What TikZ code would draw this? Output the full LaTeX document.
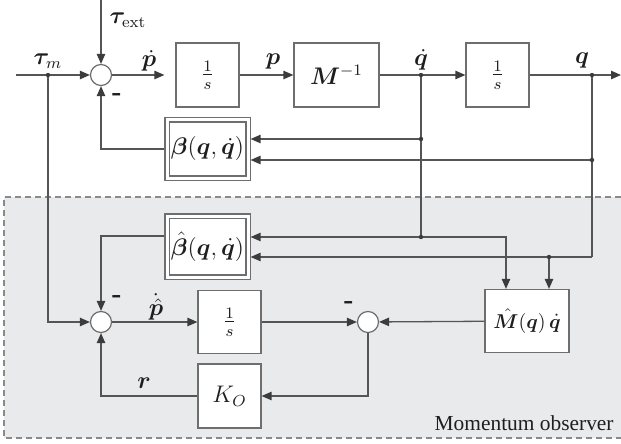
\documentclass[tikz,border=0pt]{standalone}
\usepackage{bm}
\usepackage{fontspec}
\newfontfamily\timesfont{Liberation Serif}
\usetikzlibrary{arrows.meta}
\definecolor{linegray}{HTML}{555555}
\definecolor{boxgray}{HTML}{6E6E6E}
\definecolor{tipgray}{HTML}{3C3C3C}
\definecolor{bggray}{HTML}{E9EAEB}
\definecolor{dashgray}{HTML}{8A8A8A}
\definecolor{txt}{HTML}{1E1E1E}
\begin{document}
\begin{tikzpicture}[x=0.5pt,y=-0.5pt,
  mfont/.style={font=\fontsize{11.5}{14}\selectfont, text=txt},
  blk/.style={draw=boxgray, fill=white, line width=0.6pt, inner sep=0pt, mfont},
  dblk/.style={draw=boxgray, double=white, double distance=1.5pt, line width=0.55pt,
     fill=white, inner sep=0pt, outer sep=1.3pt, mfont},
  sumc/.style={circle, draw=boxgray, fill=white, line width=0.6pt, minimum size=10.5pt, inner sep=0pt},
  con/.style={draw=linegray, line width=0.65pt, -{Triangle[length=5pt,width=4.2pt,color=tipgray]}},
  wire/.style={draw=linegray, line width=0.65pt},
  jdot/.style={circle, fill=tipgray, minimum size=2.2pt, inner sep=0pt},
  lbl/.style={mfont, inner sep=0pt},
  minus/.style={font=\fontsize{13}{15}\selectfont\bfseries, text=txt, inner sep=0pt}
]
\useasboundingbox (0,0) rectangle (621,444);
% observer region
\fill[bggray] (4,197) rectangle (621,438);
\draw[dashgray, line width=0.6pt, dash pattern=on 3pt off 2pt] (621,197) -- (4,197) -- (4,438) -- (621,438);
\node[anchor=east, font=\timesfont\fontsize{10.7}{13}\selectfont, text=txt, inner sep=0pt] (obs) at (614,423) {Momentum observer};

% blocks
\node[sumc] (s1) at (101,75) {};
\node[blk, minimum width=31.5pt, minimum height=32pt] (int1) at (207.5,75) {$\frac{1}{s}$};
\node[blk, minimum width=42.5pt, minimum height=32pt] (minv) at (336.5,75) {$\bm{M}^{-1}$};
\node[blk, minimum width=31.5pt, minimum height=32pt] (int2) at (497.5,75) {$\frac{1}{s}$};
\node[dblk, minimum width=40.5pt, minimum height=29pt] (beta) at (207.5,149) {$\bm{\beta}(\bm{q},\dot{\bm{q}})$};
\node[dblk, minimum width=40.5pt, minimum height=30.5pt] (betah) at (207.5,246.5) {$\hat{\bm{\beta}}(\bm{q},\dot{\bm{q}})$};
\node[sumc] (s2) at (101,322) {};
\node[blk, minimum width=31.5pt, minimum height=31.5pt] (int3) at (229.5,322) {$\frac{1}{s}$};
\node[blk, minimum width=31.5pt, minimum height=32pt] (ko) at (229.5,396) {$K_O$};
\node[sumc] (s3) at (368,322) {};
\node[blk, minimum width=42pt, minimum height=31.5pt, font=\fontsize{10.4}{13}\selectfont] (mh) at (527,321) {$\hat{\bm{M}}(\bm{q})\,\dot{\bm{q}}$};

% coordinates
\coordinate (in) at (16,75);
\coordinate (text) at (101,0);
\coordinate (out) at (621,75);
\coordinate (tm) at (48,75);
\coordinate (qd) at (421,75);
\coordinate (qq) at (592,75);
\coordinate (qd1) at (421,139);
\coordinate (qd2) at (421,237);
\coordinate (q1) at (592,160);
\coordinate (q2) at (592,257);
\coordinate (q3) at (549,257);

% main path
\draw[con] (in) -- (s1);
\draw[con] (text) -- (s1);
\draw[con, shorten >=5.5pt] (s1) -- (int1);
\draw[con] (int1) -- (minv);
\draw[con] (minv) -- (int2);
\draw[con] (int2) -- (out);
\draw[wire] (qd) -- (qd2);
\draw[wire] (qq) -- (q2);
\draw[con] (qd1) -- (qd1 -| beta.east);
\draw[con] (q1) -- (q1 -| beta.east);
\draw[con] (beta.west) -| (s1);
% observer
\draw[con] (tm) |- (s2);
\draw[con] (qd2) -- (qd2 -| betah.east);
\draw[con] (q2) -- (q2 -| betah.east);
\draw[con] (qd2) -| ([xshift=-10.5pt]mh.north);
\draw[con] (q3) -- (q3 |- mh.north);
\draw[con] ([yshift=5.25pt]betah.west) -| (s2);
\draw[con] (s2) -- (int3);
\draw[con] (int3) -- (s3);
\draw[con] (mh) -- (s3);
\draw[con] (s3) |- (ko);
\draw[con] (ko) -| (s2);

% junction dots
\foreach \p in {tm,qd,qq,qd1,qd2,q1,q3} \node[jdot] at (\p) {};

% labels
\node[lbl] (ltm) at (48,61) {$\bm{\tau}_m$};
\node[lbl] (lte) at (128,20) {$\bm{\tau}_{\mathrm{ext}}$};
\node[lbl] (lpd) at (149,61) {$\dot{\bm{p}}$};
\node[lbl] (lp) at (273,62) {$\bm{p}$};
\node[lbl] (lqd) at (421,60) {$\dot{\bm{q}}$};
\node[lbl] (lq) at (582,61) {$\bm{q}$};
\node[lbl] (lph) at (156,307) {$\dot{\hat{\bm{p}}}$};
\node[lbl] (lr) at (144,383) {$\bm{r}$};
\node[minus] (m1) at (117,97) {-};
\node[minus] (m2) at (117,299) {-};
\node[minus] (m3) at (349,305) {-};
\end{tikzpicture}
\end{document}
